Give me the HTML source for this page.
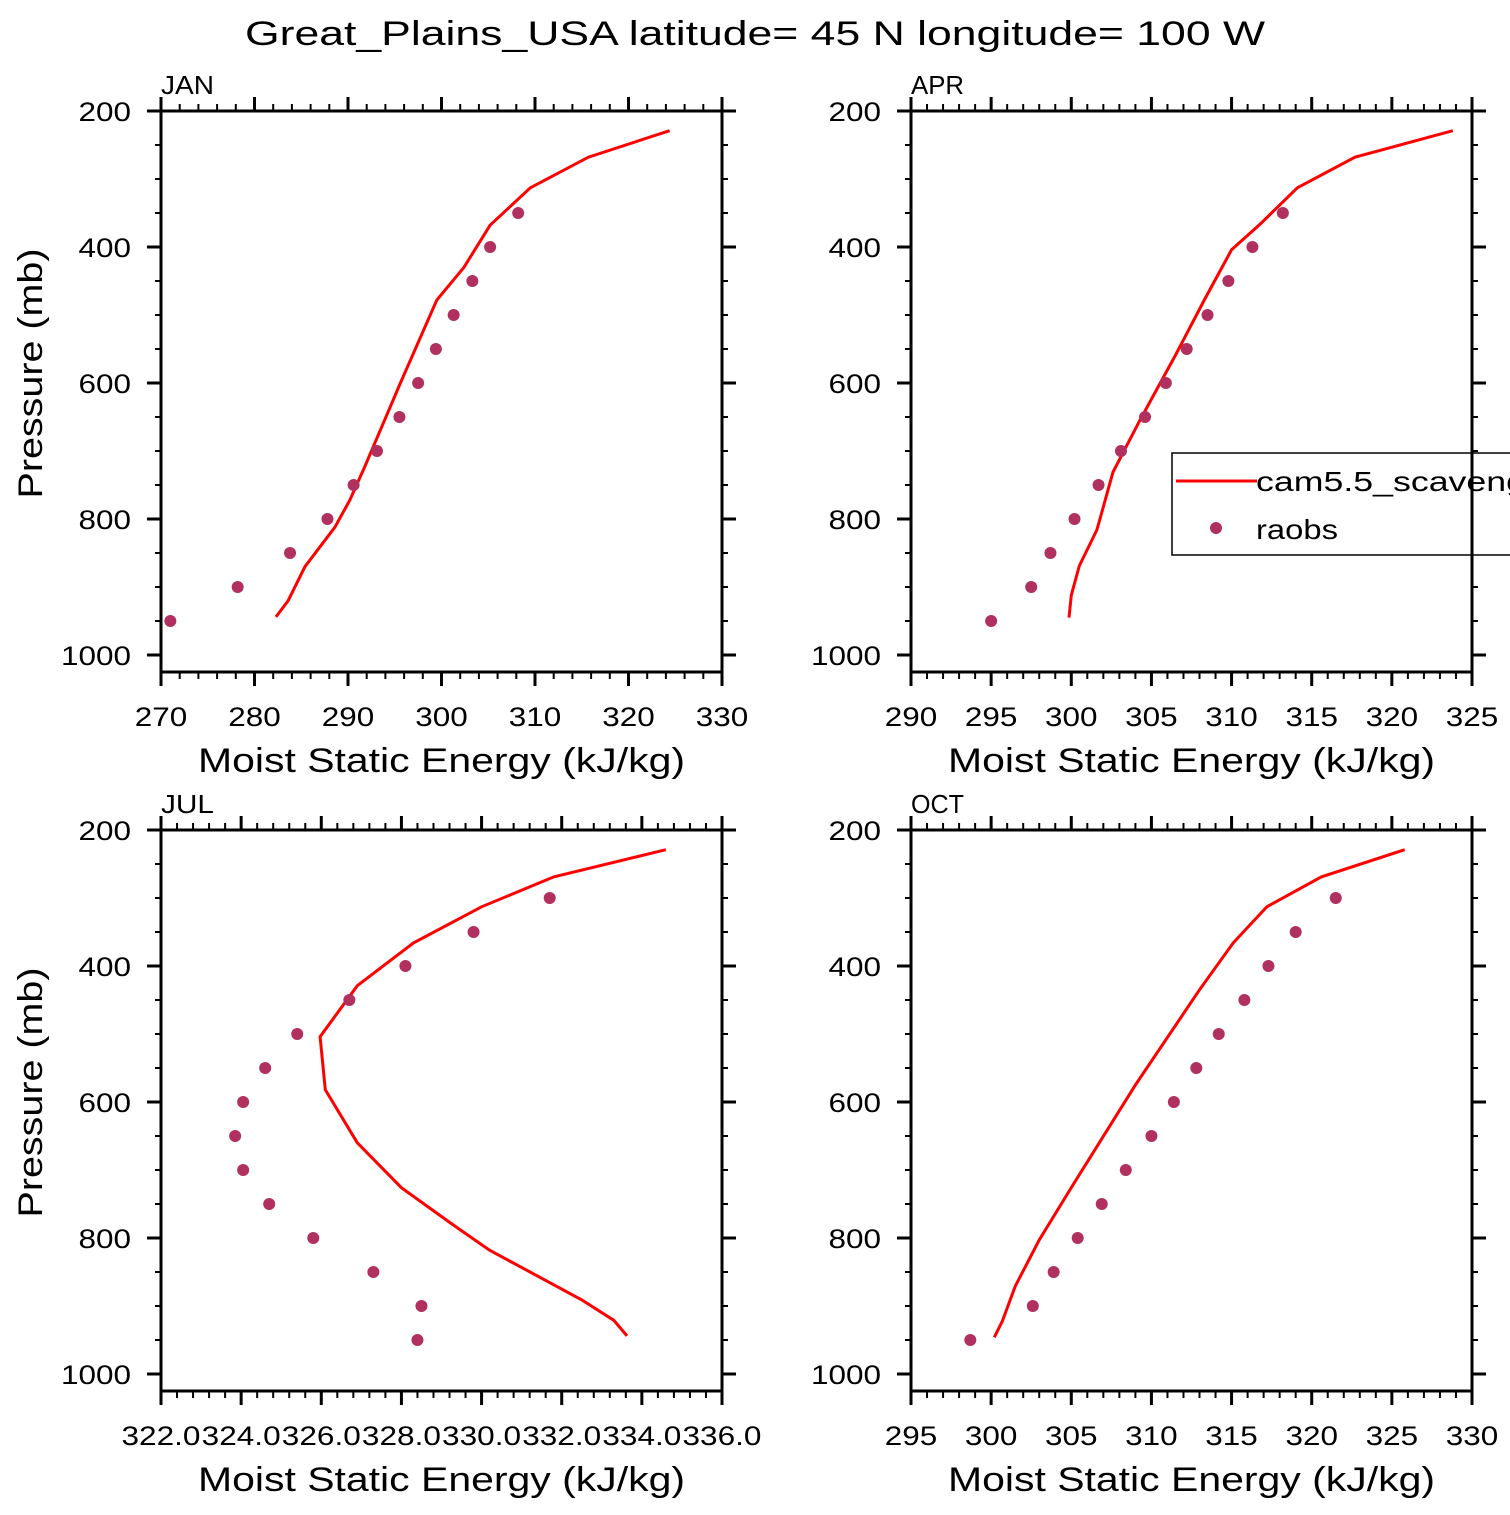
<!DOCTYPE html>
<html><head><meta charset="utf-8"><style>
body{margin:0;background:#fff}
svg text{font-family:"Liberation Sans",sans-serif;fill:#000}
</style></head><body>
<svg id="c" width="1510" height="1510" xmlns="http://www.w3.org/2000/svg">
<text x="755" y="45" font-size="34" text-anchor="middle" textLength="1020" lengthAdjust="spacingAndGlyphs">Great_Plains_USA  latitude= 45 N longitude= 100 W</text>
</svg>
<script>
// JAN
const janModelP=[944,920,870,812,772,723,600,478,430,368,313,268,229];
const janModelE=[282.3,283.6,285.4,288.6,290.2,291.8,295.6,299.5,302.4,305.2,309.5,315.7,324.4];
const janObsP=[950,900,850,800,750,700,650,600,550,500,450,400,350];
const janObsE=[271.0,278.2,283.8,287.8,290.6,293.1,295.5,297.5,299.4,301.3,303.3,305.2,308.2];
// APR
const aprModelP=[945,912,869,816,731,654,559,478,404,366,313,268,229];
const aprModelE=[299.86,300.0,300.5,301.6,302.6,304.3,306.5,308.3,310.0,311.8,314.1,317.7,323.8];
const aprObsP=[950,900,850,800,750,700,650,600,550,500,450,400,350];
const aprObsE=[295.0,297.5,298.7,300.2,301.7,303.1,304.6,305.9,307.2,308.5,309.8,311.3,313.2];
// JUL
const julModelP=[944,921,891,818,781,726,660,582,504,429,366,313,269,229];
const julModelE=[333.63,333.3,332.5,330.2,329.3,328.0,326.9,326.1,325.97,326.9,328.3,330.0,331.8,334.6];
const julObsP=[950,900,850,800,750,700,650,600,550,500,450,400,350,300];
const julObsE=[328.4,328.5,327.3,325.8,324.7,324.05,323.85,324.05,324.6,325.4,326.7,328.1,329.8,331.7];
// OCT
const octModelP=[946,922,871,803,722,575,435,366,313,269,229];
const octModelE=[300.2,300.7,301.5,303.0,305.1,309.0,313.0,315.1,317.2,320.6,325.8];
const octObsP=[950,900,850,800,750,700,650,600,550,500,450,400,350,300];
const octObsE=[298.7,302.6,303.9,305.4,306.9,308.4,310.0,311.4,312.8,314.2,315.8,317.3,319.0,321.5];
// axis tick labels
const janTicks=[270,280,290,300,310,320,330];
const aprTicks=[290,295,300,305,310,315,320,325];
const julTicks=[322,324,326,328,330,332,334,336];
const octTicks=[295,300,305,310,315,320,325,330];
const pTicks=[200,400,600,800,1000];

const NS="http://www.w3.org/2000/svg";
const svg=document.getElementById('c');
function mk(tag,attrs,parent){const e=document.createElementNS(NS,tag);for(const k in attrs)e.setAttribute(k,attrs[k]);(parent||svg).appendChild(e);return e;}
function tlen(s){let w=0;for(const ch of s)w+=(ch==='.')?9:17.5;return w;}

const panels=[
 {name:'jan',label:'JAN',x0:161,y0:111,xmin:270,xmax:330,ticks:janTicks,minor:2,fmt:v=>String(v),mp:janModelP,me:janModelE,op:janObsP,oe:janObsE},
 {name:'apr',label:'APR',x0:911,y0:111,xmin:290,xmax:325,ticks:aprTicks,minor:1,fmt:v=>String(v),mp:aprModelP,me:aprModelE,op:aprObsP,oe:aprObsE},
 {name:'jul',label:'JUL',x0:161,y0:830,xmin:322,xmax:336,ticks:julTicks,minor:0.4,fmt:v=>v.toFixed(1),mp:julModelP,me:julModelE,op:julObsP,oe:julObsE},
 {name:'oct',label:'OCT',x0:911,y0:830,xmin:295,xmax:330,ticks:octTicks,minor:1,fmt:v=>String(v),mp:octModelP,me:octModelE,op:octObsP,oe:octObsE},
];
const W=561,H=561;
panels.forEach(p=>{
 const g=mk('g',{});
 
 
 const sx=v=>p.x0+(v-p.xmin)/(p.xmax-p.xmin)*W;
 const sy=v=>p.y0+(v-200)*0.68;
 const bot=p.y0+H, right=p.x0+W;
 for(let v=p.xmin;v<=p.xmax+1e-6;v+=p.minor){
   const x=sx(v);
   const t1=mk('line',{x1:x,x2:x,y1:p.y0,y2:p.y0-7,stroke:'#000','stroke-width':2},g);
   
   
   const t2=mk('line',{x1:x,x2:x,y1:bot,y2:bot+7,stroke:'#000','stroke-width':2},g);
   
   
 }
 p.ticks.forEach(v=>{
   const x=sx(v);
   const a=mk('line',{x1:x,x2:x,y1:p.y0,y2:p.y0-14,stroke:'#000','stroke-width':3},g);
   
   
   const b=mk('line',{x1:x,x2:x,y1:bot,y2:bot+14,stroke:'#000','stroke-width':3},g);
   
   
   const s=p.fmt(v);
   const t=mk('text',{x:x,y:bot+54,'font-size':27,'text-anchor':'middle',textLength:tlen(s),lengthAdjust:'spacingAndGlyphs'},g);
   t.textContent=s;
   
   
 });
 for(let v=200;v<=1025;v+=50){
   const y=sy(v), major=(v%200===0);
   const l=major?14:6;
   const a=mk('line',{x1:p.x0,x2:p.x0-l,y1:y,y2:y,stroke:'#000','stroke-width':major?3:2},g);
   
   
   const b=mk('line',{x1:right,x2:right+l,y1:y,y2:y,stroke:'#000','stroke-width':major?3:2},g);
   
   
 }
 pTicks.forEach(v=>{
   const s=String(v);
   const t=mk('text',{x:p.x0-30,y:sy(v)+10,'font-size':27,'text-anchor':'end',textLength:tlen(s),lengthAdjust:'spacingAndGlyphs'},g);
   t.textContent=s;
   
   
 });
 const fr=mk('rect',{x:p.x0,y:p.y0,width:W,height:H,fill:'none',stroke:'#000','stroke-width':3},g);
 
 
 const lb=mk('text',{x:p.x0,y:p.y0-17,'font-size':26,textLength:53,lengthAdjust:'spacingAndGlyphs'},g);
 lb.textContent=p.label;
 
 
 const xt=mk('text',{x:p.x0+W/2,y:bot+100,'font-size':34,'text-anchor':'middle',textLength:487,lengthAdjust:'spacingAndGlyphs'},g);
 xt.textContent='Moist Static Energy (kJ/kg)';
 
 
 if(p.x0<500){
   const cy=p.y0+H/2-18;
   const yt=mk('text',{x:30,y:cy,'font-size':34,'text-anchor':'middle',textLength:250,lengthAdjust:'spacingAndGlyphs',transform:`rotate(-90 30 ${cy}) translate(0 12)`},g);
   yt.textContent='Pressure (mb)';
   
   
 }
 const pts=p.mp.map((pp,i)=>sx(p.me[i]).toFixed(1)+','+sy(pp).toFixed(1)).join(' ');
 const ln=mk('polyline',{points:pts,fill:'none',stroke:'#ff0000','stroke-width':3},g);
 
 
 p.op.forEach((pp,i)=>{
   const c=mk('circle',{cx:sx(p.oe[i]),cy:sy(pp),r:6,fill:'#b03060'},g);
   
   
 });
});
// legend
const lg=mk('g',{});


mk('rect',{x:1172,y:453,width:345,height:102,fill:'#fff',stroke:'#000','stroke-width':1.5},lg);
mk('line',{x1:1176,x2:1257,y1:481,y2:481,stroke:'#ff0000','stroke-width':3},lg);
const l1=mk('text',{x:1256,y:491,'font-size':28,textLength:270,lengthAdjust:'spacingAndGlyphs'},lg);
l1.textContent='cam5.5_scaveng';


mk('circle',{cx:1216,cy:528,r:6,fill:'#b03060'},lg);
const l2=mk('text',{x:1256,y:539,'font-size':28,textLength:82,lengthAdjust:'spacingAndGlyphs'},lg);
l2.textContent='raobs';


mk('line',{x1:1472,x2:1472,y1:453,y2:556,stroke:'#000','stroke-width':3},lg);
</script>
</body></html>
